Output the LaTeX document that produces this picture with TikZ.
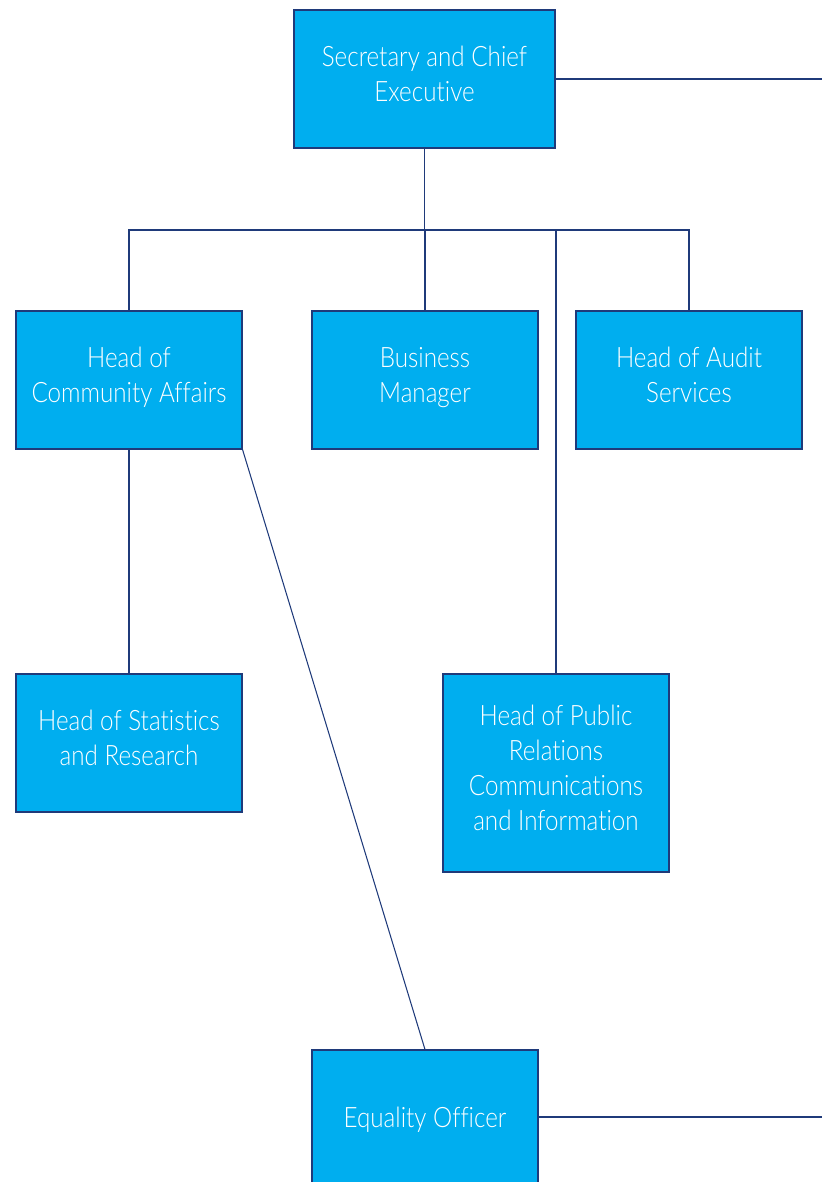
\documentclass[tikz,border=0pt]{standalone}
\usepackage{fontspec}
\setmainfont{Lato}[UprightFont=* Light, FakeStretch=0.86, Ligatures=NoCommon]
\usetikzlibrary{positioning}
\definecolor{officecyan}{HTML}{00AEEF}
\definecolor{officenavy}{HTML}{1F3A7A}

\tikzset{
  postbox/.style={rectangle, draw=officenavy, fill=officecyan, line width=0.9pt, inner sep=0pt,
    minimum width=6.78cm, minimum height=4.14cm, align=center, text=white,
    font=\fontsize{24}{30}\selectfont,
    execute at begin node={\rule{0pt}{26.5pt}}, execute at end node=\strut},
  link/.style={draw=officenavy, line width=0.9pt}
}

\begin{document}
\begin{tikzpicture}[x=0.03cm, y=-0.03cm]
\useasboundingbox (0,0) rectangle (822,1182);

% Boxes
\node[postbox, minimum width=7.83cm] (secretary) at (424.5,79) {Secretary and Chief\\Executive};
\node[postbox] (community) at (129,380) {Head of\\Community Affairs};
\node[postbox] (business) at (425,380) {Business\\Manager};
\node[postbox] (audit) at (689,380) {Head of Audit\\Services};
\node[postbox] (statistics) at (129,743) {Head of Statistics\\and Research};
\node[postbox, minimum height=5.94cm] (publicrel) at (556,773) {Head of Public\\Relations\\Communications\\and Information};
\node[postbox, minimum height=4.02cm] (equality) at (425,1117) {Equality Officer};

% Free ends and the bus
\coordinate (secout) at (822,78);
\coordinate (eqout) at (822,1116);
\coordinate (bus) at (423,230);

% Lines
\draw[link] (secretary.east) -- (secretary.east -| secout);
\draw[link] (secretary.south) -- (secretary.south |- bus);
\draw[link] (community.north) -- (community.north |- bus) -- (audit.north |- bus) -- (audit.north);
\draw[link] (business.north) -- (business.north |- bus);
\draw[link] (publicrel.north) -- (publicrel.north |- bus);
\draw[link] (community.south) -- (statistics.north);
\draw[link] (community.south east) -- (equality.north);
\draw[link] (equality.east) -- (equality.east -| eqout);
\end{tikzpicture}
\end{document}
